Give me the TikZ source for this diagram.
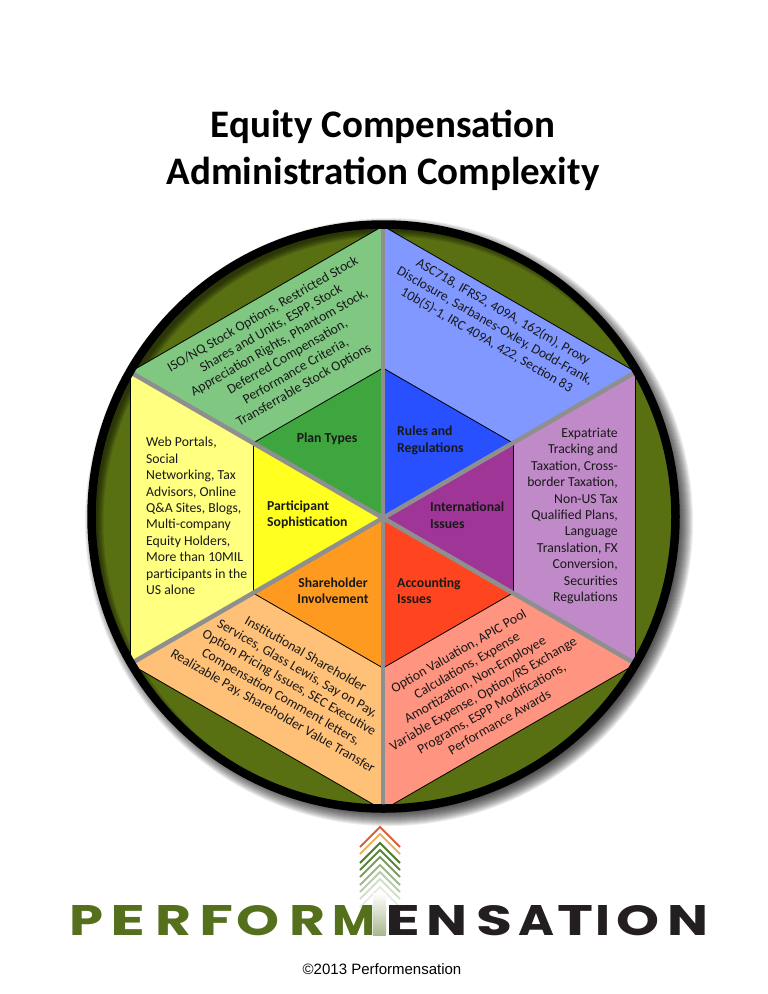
\documentclass[tikz,border=0pt]{standalone}
\usepackage{fontspec}
\usepackage{xcolor}
\usepackage{graphicx}
\setmainfont{Carlito}
\newfontfamily\logofont{Poppins}
\newfontfamily\footfont{Liberation Sans}
\usetikzlibrary{positioning,calc}
\definecolor{olive}{HTML}{586F12}
\definecolor{planlite}{HTML}{80C882}
\definecolor{plandark}{HTML}{3FA63F}
\definecolor{ruleslite}{HTML}{8098FF}
\definecolor{rulesdark}{HTML}{2850FF}
\definecolor{intllite}{HTML}{C08AC8}
\definecolor{intldark}{HTML}{A03598}
\definecolor{acctlite}{HTML}{FF9580}
\definecolor{acctdark}{HTML}{FF4520}
\definecolor{holdlite}{HTML}{FFC078}
\definecolor{holddark}{HTML}{FF9A20}
\definecolor{partlite}{HTML}{FFFF80}
\definecolor{partdark}{HTML}{FFFF20}
\definecolor{spokegray}{HTML}{8F8F8F}
\definecolor{logogreen}{HTML}{55701C}
\definecolor{logoblack}{HTML}{231F20}
\tikzstyle{headline}=[%
      font=\fontsize{39}{47}\selectfont\bfseries, align=center, inner sep=0pt
]
\tikzstyle{outer}=[%
      font=\fontsize{13.7}{16.4}\selectfont, align=center, inner sep=0pt, text=black!90
]
\tikzstyle{inner}=[%
      font=\fontsize{13.7}{16.5}\selectfont\bfseries, align=left, anchor=west, inner sep=0pt, text=black!90
]
\tikzstyle{spoke}=[draw=spokegray, line width=4.5pt]
\tikzstyle{edgeline}=[draw=black, line width=0.8pt]
\tikzstyle{logoletter}=[%
      font=\logofont\fontsize{43}{43}\selectfont\bfseries, anchor=base west, inner sep=0pt
]
\begin{document}
\begin{tikzpicture}[x=1pt, y=-1pt]
    \useasboundingbox (0,0) rectangle (768,994);
    \coordinate (ctr) at (383,518);
    \coordinate (rim) at (383.5,516.5);
    \coordinate (rimshadow) at (389,522);
    \coordinate (rimdark) at (389.5,522.5);

    % soft shadow and olive disc
    \foreach \r in {290,...,304}
      \fill[black, opacity=.07] (rimshadow) circle[radius=\r];
    \fill[olive] (rim) circle[radius=292];
    \begin{scope}
      \clip (rim) circle[radius=292];
      \foreach \r in {286,287,...,292}
        \fill[black, opacity=.09, even odd rule] (0,0) rectangle (768,994) (rimdark) circle[radius=\r];
    \end{scope}

    % hexagon corners, 0 is the top one
    \foreach \i in {0,...,5} {
      \coordinate (v\i) at ($(ctr)+(-90+60*\i:292)$);
      \coordinate (u\i) at ($(ctr)+(-90+60*\i:150)$);
    }
    \foreach \i/\j/\lite/\dark in {0/1/ruleslite/rulesdark, 1/2/intllite/intldark,
        2/3/acctlite/acctdark, 3/4/holdlite/holddark,
        4/5/partlite/partdark, 5/0/planlite/plandark} {
      \fill[\lite] (v\i) -- (v\j) -- (ctr) -- cycle;
      \fill[\dark] (u\i) -- (u\j) -- (ctr) -- cycle;
      \draw[edgeline] (v\i) -- (v\j);
      \draw[edgeline] (u\i) -- (u\j);
    }
    \foreach \i in {0,...,5}
      \draw[spoke] (ctr) -- (v\i);
    \draw[black, line width=8.5pt] (rim) circle[radius=292];

    \node[headline] (title) at (383,150) {Equity Compensation\\Administration Complexity};

    \node[outer, rotate=30] (plantext) at (283.5,350) {ISO/NQ Stock Options, Restricted Stock\\Shares and Units, ESPP, Stock\\Appreciation Rights, Phantom Stock,\\Deferred Compensation,\\Performance Criteria,\\Transferrable Stock Options};
    \node[outer, rotate=-30] (rulestext) at (495,326) {ASC718, IFRS2, 409A, 162(m), Proxy\\Disclosure, Sarbanes-Oxley, Dodd-Frank,\\10b(5)-1, IRC 409A, 422, Section 83};
    \node[outer, align=right, anchor=east] (intltext) at (618,516) {Expatriate\\Tracking and\\Taxation, Cross-\\border Taxation,\\Non-US Tax\\Qualified Plans,\\Language\\Translation, FX\\Conversion,\\Securities\\Regulations};
    \node[outer, rotate=30] (accttext) at (479,686.5) {Option Valuation, APIC Pool\\Calculations, Expense\\Amortization, Non-Employee\\Variable Expense, Option/RS Exchange\\Programs, ESPP Modifications,\\Performance Awards};
    \node[outer, rotate=-30] (holdtext) at (289,683) {Institutional Shareholder\\Services, Glass Lewis, Say on Pay,\\Option Pricing Issues, SEC Executive\\Compensation Comment letters,\\Realizable Pay, Shareholder Value Transfer};
    \node[outer, align=left, anchor=west] (parttext) at (146,516) {Web Portals,\\Social\\Networking, Tax\\Advisors, Online\\Q\&A Sites, Blogs,\\Multi-company\\Equity Holders,\\More than 10MIL\\participants in the\\US alone};

    \node[inner, align=center, anchor=center] (planlabel) at (327,439) {Plan Types};
    \node[inner] (ruleslabel) at (397,440.5) {Rules and\\Regulations};
    \node[inner] (intllabel) at (430,515) {International\\Issues};
    \node[inner] (acctlabel) at (397,590.5) {Accounting\\Issues};
    \node[inner, align=center, anchor=center] (holdlabel) at (333,590.5) {Shareholder\\Involvement};
    \node[inner] (partlabel) at (267,515) {Participant\\Sophistication};

    % logo
    \foreach \y/\c in {827/D9603A, 834/EEB060, 843/4F7A2A, 850/5A8436, 857/7C9C60, 865/9DB68A, 872/BACBAC, 879/D2DECB, 887/E6ECE2} {
      \definecolor{chev}{HTML}{\c}
      \coordinate (cl) at (360,\y+20);
      \coordinate (ct) at (380,\y);
      \coordinate (cr) at (400,\y+20);
      \draw[chev, line width=2pt] (cl) -- (ct) -- (cr);
    }
    \shade[top color=white, bottom color=logogreen!50] (373,893) rectangle (386,935);
    \foreach \ltr/\x/\w/\c in {P/69/34/logogreen, E/110/35/logogreen, R/155/36/logogreen, F/199/34/logogreen, O/236/43/logogreen, R/289/36/logogreen, M/332/43/logogreen,
        E/385/35/logoblack, N/426/41/logoblack, S/476/36/logoblack, A/518/36/logoblack, T/557/36/logoblack, I/595/15/logoblack, O/616/43/logoblack, N/667/41/logoblack}
      \node[logoletter, text=\c] (logo\x) at (\x,935) {\resizebox{\w pt}{30pt}{\ltr}};

    \node[font=\footfont\fontsize{15}{16}\selectfont, inner sep=0pt] (copyright) at (382,969) {©2013 Performensation};
\end{tikzpicture}
\end{document}
